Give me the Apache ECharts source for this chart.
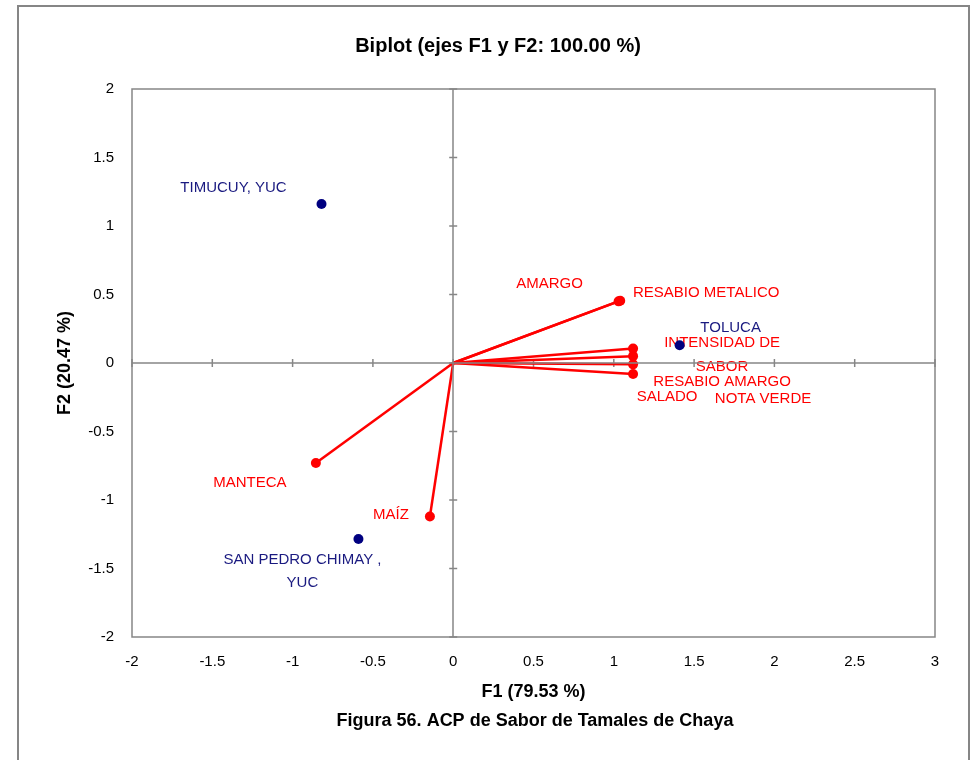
<!DOCTYPE html>
<html>
<head>
<meta charset="utf-8">
<script src="https://cdn.jsdelivr.net/npm/echarts@6/dist/echarts.min.js"></script>
<style>
  html, body { margin: 0; padding: 0; background: #ffffff; }
  #chart { width: 974px; height: 760px; }
</style>
</head>
<body>
<div id="chart"></div>
<script>
// Observations (tamal samples) on F1/F2
const obsNames = ['TIMUCUY, YUC', 'SAN PEDRO CHIMAY ,\nYUC', 'TOLUCA'];
const obsF1 = [-0.82, -0.59, 1.41];
const obsF2 = [1.16, -1.285, 0.13];

// Flavour variables (loadings drawn as vectors from the origin)
const varNames = ['AMARGO', 'RESABIO METALICO', 'INTENSIDAD DE\nSABOR', 'RESABIO AMARGO', 'NOTA VERDE', 'SALADO', 'MANTECA', 'MAÍZ'];
const varF1 = [1.03, 1.04, 1.12, 1.12, 1.12, 1.12, -0.855, -0.145];
const varF2 = [0.45, 0.455, 0.105, 0.05, -0.01, -0.08, -0.73, -1.12];

// Axis ticks
const xTicks = [-2, -1.5, -1, -0.5, 0, 0.5, 1, 1.5, 2, 2.5, 3];
const yTicks = [-2, -1.5, -1, -0.5, 0, 0.5, 1, 1.5, 2];

// Label placement around each marker (pixel offsets)
const labelOffset = {
  'TIMUCUY, YUC': [-88, -16],
  'SAN PEDRO CHIMAY ,\nYUC': [-56, 32],
  'TOLUCA': [51, -17],
  'AMARGO': [-69, -17],
  'RESABIO METALICO': [86, -8],
  'INTENSIDAD DE\nSABOR': [89, 6],
  'RESABIO AMARGO': [89, 26],
  'NOTA VERDE': [130, 34],
  'SALADO': [34, 23],
  'MANTECA': [-66, 20],
  'MAÍZ': [-39, -2]
};

const FONT = 'Liberation Sans';
const GRAY = '#868686';
const RED = '#ff0000';
const NAVY = '#000080';

const chart = echarts.init(document.getElementById('chart'));

const vectorSeries = varNames.map((name, i) => ({
  type: 'line',
  name: name,
  z: 3,
  lineStyle: { color: RED, width: 2.5, opacity: 1 },
  itemStyle: { color: RED, opacity: 1 },
  symbol: 'circle',
  symbolSize: 10,
  animation: false,
  data: [
    { value: [0, 0], symbol: 'none', label: { show: false } },
    {
      value: [varF1[i], varF2[i]],
      label: {
        show: true,
        position: 'inside',
        offset: labelOffset[name],
        formatter: name,
        color: RED,
        fontFamily: FONT,
        fontSize: 15,
        align: 'center',
        lineHeight: 24
      }
    }
  ]
}));

const tickRender = (dir) => function (params, api) {
  const v = api.value(0);
  const p = dir === 'x' ? api.coord([v, 0]) : api.coord([0, v]);
  const shape = dir === 'x'
    ? { x1: p[0], y1: p[1] - 4, x2: p[0], y2: p[1] + 4 }
    : { x1: p[0] - 4, y1: p[1], x2: p[0] + 4, y2: p[1] };
  return { type: 'line', shape: shape, style: { stroke: GRAY, lineWidth: 1.5 } };
};

const option = {
  backgroundColor: '#ffffff',
  animation: false,
  title: {
    text: 'Biplot (ejes F1 y F2: 100.00 %)',
    left: 493,
    textAlign: 'center',
    top: 31,
    textStyle: { fontFamily: FONT, fontSize: 20, fontWeight: 'bold', color: '#000' }
  },
  graphic: [
    {
      type: 'rect',
      shape: { x: 18, y: 6, width: 951, height: 800 },
      style: { fill: 'none', stroke: GRAY, lineWidth: 2 },
      silent: true
    },
    {
      type: 'text',
      x: 535,
      y: 721,
      style: {
        text: 'Figura 56. ACP de Sabor de Tamales de Chaya',
        align: 'center',
        verticalAlign: 'middle',
        fontFamily: FONT, fontSize: 18, fontWeight: 'bold', fill: '#000'
      }
    }
  ],
  grid: {
    left: 132, right: 39, top: 89, bottom: 123,
    show: true, borderColor: GRAY, borderWidth: 1.5, backgroundColor: 'transparent'
  },
  xAxis: {
    type: 'value', min: -2, max: 3, interval: 0.5,
    axisLine: { show: false }, axisTick: { show: false }, splitLine: { show: false },
    axisLabel: { fontFamily: FONT, fontSize: 15, color: '#000', margin: 17 },
    name: 'F1 (79.53 %)', nameLocation: 'middle', nameGap: 46,
    nameTextStyle: { fontFamily: FONT, fontSize: 18, fontWeight: 'bold', color: '#000' }
  },
  yAxis: {
    type: 'value', min: -2, max: 2, interval: 0.5,
    axisLine: { show: false }, axisTick: { show: false }, splitLine: { show: false },
    axisLabel: { fontFamily: FONT, fontSize: 15, color: '#000', margin: 18 },
    name: 'F2 (20.47 %)', nameLocation: 'middle', nameGap: 58, nameRotate: 90,
    nameTextStyle: { fontFamily: FONT, fontSize: 18, fontWeight: 'bold', color: '#000' }
  },
  series: [
    {
      type: 'custom',
      name: 'xticks',
      z: 1,
      silent: true,
      renderItem: tickRender('x'),
      data: xTicks.map(v => [v]),
      markLine: {
        silent: true,
        symbol: 'none',
        label: { show: false },
        lineStyle: { color: GRAY, width: 1.5, type: 'solid' },
        data: [{ xAxis: 0 }, { yAxis: 0 }]
      }
    },
    {
      type: 'custom',
      name: 'yticks',
      z: 1,
      silent: true,
      renderItem: tickRender('y'),
      data: yTicks.map(v => [v])
    },
    ...vectorSeries,
    {
      type: 'scatter',
      name: 'obs',
      z: 4,
      symbol: 'circle',
      symbolSize: 10,
      itemStyle: { color: NAVY, opacity: 1 },
      data: obsNames.map((n, i) => ({
        value: [obsF1[i], obsF2[i]],
        label: {
          show: true,
          position: 'inside',
          offset: labelOffset[n],
          formatter: n,
          color: '#1a1a80',
          fontFamily: FONT,
          fontSize: 15,
          align: 'center',
          lineHeight: 23
        }
      }))
    }
  ]
};

chart.setOption(option);
</script>
</body>
</html>
